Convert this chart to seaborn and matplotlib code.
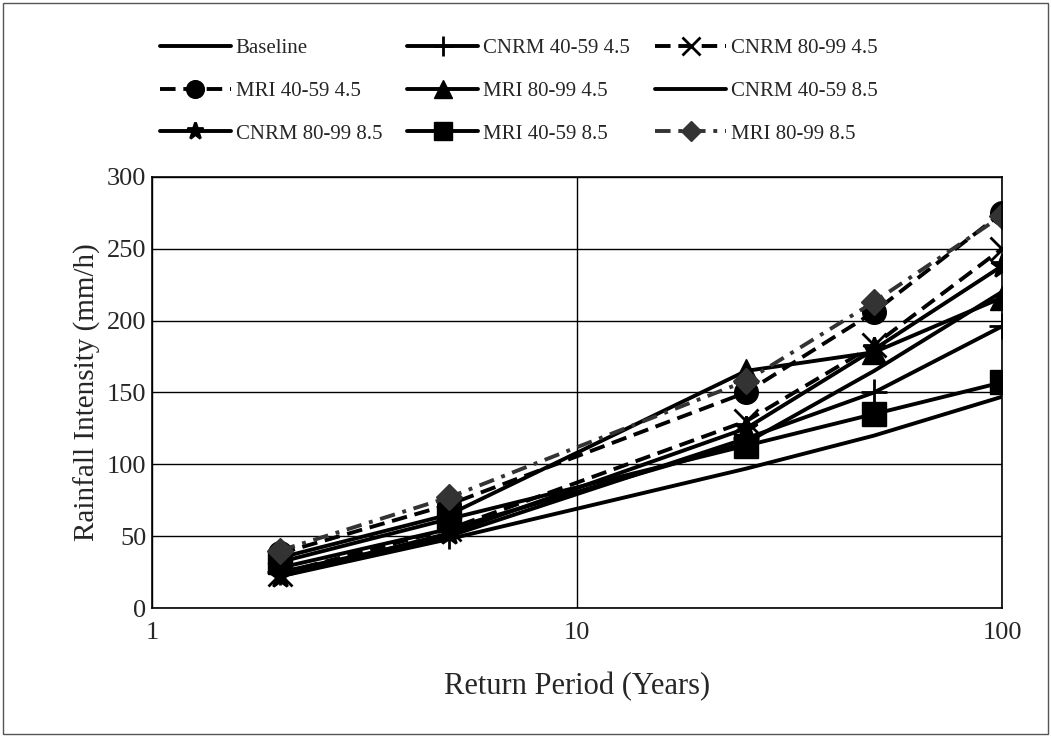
import matplotlib
matplotlib.use("Agg")
import matplotlib.pyplot as plt
from matplotlib.ticker import FixedLocator, FixedFormatter, NullLocator
from matplotlib.patches import Rectangle
import seaborn as sns
import pandas as pd

# Return periods (years)
return_period = [2, 5, 25, 50, 100]

# Rainfall intensity (mm/h) for each scenario
baseline = [22, 48, 97, 120, 147]
cnrm_4059_45 = [25, 50, 118, 150, 196]
cnrm_8099_45 = [24, 55, 130, 183, 250]
mri_4059_45 = [38, 72, 150, 206, 275]
mri_8099_45 = [35, 65, 165, 178, 216]
cnrm_4059_85 = [28, 55, 115, 165, 220]
cnrm_8099_85 = [22, 52, 125, 180, 238]
mri_4059_85 = [32, 62, 113, 135, 157]
mri_8099_85 = [40, 77, 158, 213, 273]

series_names = ["Baseline", "CNRM 40-59 4.5", "CNRM 80-99 4.5",
                "MRI 40-59 4.5", "MRI 80-99 4.5", "CNRM 40-59 8.5",
                "CNRM 80-99 8.5", "MRI 40-59 8.5", "MRI 80-99 8.5"]
series_values = [baseline, cnrm_4059_45, cnrm_8099_45, mri_4059_45,
                 mri_8099_45, cnrm_4059_85, cnrm_8099_85, mri_4059_85,
                 mri_8099_85]

y_ticks = [0, 50, 100, 150, 200, 250, 300]
x_ticks = [1, 10, 100]
x_tick_labels = ["1", "10", "100"]

# style for each scenario: (marker, markersize, linestyle, colour)
styles = {
    "Baseline": (None, 0, "-", "black"),
    "CNRM 40-59 4.5": ("+", 19, "-", "black"),
    "CNRM 80-99 4.5": ("x", 17, (0, (4, 2)), "black"),
    "MRI 40-59 4.5": ("o", 17, (0, (4, 2)), "black"),
    "MRI 80-99 4.5": ("^", 17, "-", "black"),
    "CNRM 40-59 8.5": (None, 0, "-", "black"),
    "CNRM 80-99 8.5": ("*", 17, "-", "black"),
    "MRI 40-59 8.5": ("s", 17, "-", "black"),
    "MRI 80-99 8.5": ("D", 13, (0, (4, 2, 1, 2)), "#333333"),
}

rows = []
for name, vals in zip(series_names, series_values):
    for t, v in zip(return_period, vals):
        rows.append({"Return Period": t, "Intensity": v, "Scenario": name})
df = pd.DataFrame(rows)

sns.set_theme(style="white")
plt.rcParams["font.family"] = ["Liberation Serif", "DejaVu Serif"]

fig = plt.figure(figsize=(10.51, 7.37), dpi=100)
ax = fig.add_axes([0.1446, 0.175, 0.8088, 0.585])

for name in series_names:
    marker, ms, ls, col = styles[name]
    sub = df[df["Scenario"] == name]
    sns.lineplot(data=sub, x="Return Period", y="Intensity", ax=ax,
                 color=col, linewidth=2.8, linestyle=ls,
                 marker=marker if marker else "", markersize=ms,
                 markeredgewidth=2.0 if marker in ("+", "x", "*") else 1.0,
                 markeredgecolor=col, markerfacecolor=col,
                 label=name, legend=False)

ax.set_xscale("log")
ax.set_xlim(1, 100)
ax.set_ylim(0, 300)
ax.xaxis.set_major_locator(FixedLocator(x_ticks))
ax.xaxis.set_major_formatter(FixedFormatter(x_tick_labels))
ax.xaxis.set_minor_locator(NullLocator())
ax.set_yticks(y_ticks)
ax.grid(True, which="major", color="black", linewidth=1.0)
ax.tick_params(axis="both", labelsize=19, length=0)
ax.tick_params(axis="x", pad=10)
ax.tick_params(axis="y", pad=4)
for s in ax.spines.values():
    s.set_color("black")
    s.set_linewidth(1.2)
ax.set_xlabel("Return Period (Years)", fontsize=22, labelpad=20)
ax.set_ylabel("Rainfall Intensity (mm/h)", fontsize=21, labelpad=4)

# legend laid out row by row, three entries per row
handles, labels = ax.get_legend_handles_labels()
order = [0, 3, 6, 1, 4, 7, 2, 5, 8]
fig.legend([handles[i] for i in order], [labels[i] for i in order],
           loc="upper left", bbox_to_anchor=(0.152, 0.948),
           ncol=3, frameon=False, fontsize=15, handlelength=3.4,
           handletextpad=0.25, columnspacing=1.2, labelspacing=1.12,
           borderpad=0, borderaxespad=0, markerscale=0.75)

fig.add_artist(Rectangle((0.003, 0.004), 0.994, 0.992, transform=fig.transFigure,
                         fill=False, edgecolor="#555555", linewidth=1.0))

fig.savefig("out.png", dpi=100)
